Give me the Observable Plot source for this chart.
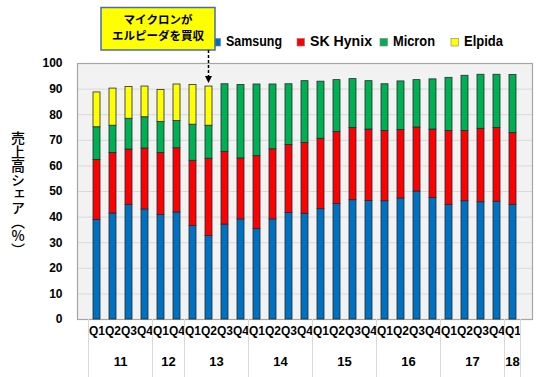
<!DOCTYPE html>
<html>
<head>
<meta charset="utf-8">
<script src="https://cdn.jsdelivr.net/npm/d3@7"></script>
<script src="https://cdn.jsdelivr.net/npm/@observablehq/plot@0.6"></script>
<style>
  body { margin: 0; background: #fff; }
  #chart svg text { font-family: Arial, "Liberation Sans", sans-serif; font-weight: bold; }
</style>
</head>
<body>
<div id="chart"></div>
<script>
// ---- data ----
const years    = ["11","11","11","11","12","12","13","13","13","13","14","14","14","14","15","15","15","15","16","16","16","16","17","17","17","17","18"];
const quarters = ["Q1","Q2","Q3","Q4","Q1","Q4","Q1","Q2","Q3","Q4","Q1","Q2","Q3","Q4","Q1","Q2","Q3","Q4","Q1","Q2","Q3","Q4","Q1","Q2","Q3","Q4","Q1"];
const companies = ["Samsung", "SK Hynix", "Micron", "Elpida"];
const colors    = ["#0070c0", "#ff0000", "#00b050", "#ffff00"];
const samsung = [38.9,41.4,44.8,43.0,40.8,41.8,36.5,32.6,37.1,39.1,35.3,39.1,41.6,41.3,43.1,45.1,46.6,46.3,46.2,47.3,50.0,47.5,44.8,46.2,45.8,46.0,44.8];
const hynix   = [23.4,23.6,21.6,23.8,24.2,25.1,25.5,30.2,28.4,23.8,28.5,27.4,26.6,27.7,27.5,28.1,28.2,27.9,27.4,26.7,25.0,26.7,28.8,27.4,28.7,28.8,28.0];
const micron  = [12.8,10.7,12.0,12.2,12.2,10.6,14.1,12.9,26.4,28.7,28.0,25.3,23.7,24.1,22.3,20.3,19.1,18.9,18.3,19.0,18.5,19.6,20.8,21.6,21.1,20.8,22.7];
const elpida  = [13.6,14.5,12.4,12.0,12.5,14.3,15.5,15.3];
const yTicks = [0,10,20,30,40,50,60,70,80,90,100];
const gridValues = [10,20,30,40,50,60,70,80,90];
const yTitle = "売上高シェア（%）";
const noteLines = ["マイクロンが", "エルピーダを買収"];
const noteQuarter = 7; // 13Q2

const ids = years.map((y, i) => y + quarters[i]);
const series = [samsung, hynix, micron, elpida];
const table = [];
companies.forEach((c, k) => {
  series[k].forEach((v, i) => table.push({id: ids[i], company: c, value: v}));
});

const chart = Plot.plot({
  width: 550,
  height: 377,
  marginTop: 63,
  marginBottom: 58,
  marginLeft: 77,
  marginRight: 18,
  style: {fontSize: "12px", color: "#000", background: "#fff"},
  x: {domain: ids, paddingInner: 0.55, paddingOuter: 0.275, axis: null},
  y: {domain: [0, 100], label: null},
  color: {domain: companies, range: colors},
  marks: [
    Plot.frame({fill: "#f2f2f2", stroke: "none"}),
    Plot.ruleY(gridValues, {stroke: "#d9d9d9", strokeWidth: 1}),
    Plot.frame({stroke: "#a6a6a6", strokeWidth: 1.2}),
    Plot.barY(table, Plot.stackY({order: companies}, {
      x: "id", y: "value", fill: "company", stroke: "#1f2a36", strokeWidth: 0.8
    })),
    Plot.axisY({ticks: yTicks, tickSize: 0, tickPadding: 15, fontSize: 12, fill: "#000", label: null}),
    Plot.text(ids, {x: d => d, text: (d, i) => quarters[i], frameAnchor: "bottom", dy: 15, fontSize: 12, fill: "#000"})
  ]
});
document.getElementById("chart").appendChild(chart);

const svg = d3.select(chart);
const xs = chart.scale("x");
const ys = chart.scale("y");
const step = xs.step, bw = xs.bandwidth;
const left = id => xs.apply(id) - (step - bw) / 2;
const center = id => xs.apply(id) + bw / 2;
const y0 = ys.apply(0);

// year groups: separators + labels
const groups = d3.groups(ids.map((id, i) => ({id, year: years[i]})), d => d.year);
const sepX = groups.map(([, arr]) => left(arr[0].id));
sepX.push(left(ids[ids.length - 1]) + step);
svg.append("g").selectAll("line").data(sepX).join("line")
  .attr("x1", d => d).attr("x2", d => d)
  .attr("y1", y0).attr("y2", 377)
  .attr("stroke", "#d9d9d9").attr("stroke-width", 1);
svg.append("g").selectAll("text").data(groups).join("text")
  .attr("x", ([, arr]) => (left(arr[0].id) + left(arr[arr.length - 1].id) + step) / 2)
  .attr("y", y0 + 44)
  .attr("text-anchor", "middle").attr("dominant-baseline", "middle")
  .attr("font-size", 13).attr("fill", "#000")
  .text(([y]) => y);

// y title (vertical writing)
svg.append("text")
  .attr("x", 18).attr("y", 131)
  .attr("text-anchor", "start")
  .attr("style", "writing-mode: vertical-rl; text-orientation: upright; font-family: 'Noto Sans CJK JP', sans-serif; font-weight: 500; font-size: 14px;")
  .attr("fill", "#000")
  .text(yTitle);

// legend
const legendX = [213, 297, 380, 451];
const legendW = [56, 62, 42, 39];
const lg = svg.append("g");
companies.forEach((c, k) => {
  lg.append("rect").attr("x", legendX[k]).attr("y", 38.5).attr("width", 7.5).attr("height", 7.5)
    .attr("fill", colors[k]).attr("stroke", "#7f7f7f").attr("stroke-width", 0.6);
  lg.append("text").attr("x", legendX[k] + 13).attr("y", 42.5)
    .attr("text-anchor", "start")
    .attr("dominant-baseline", "middle").attr("font-size", 15).attr("fill", "#000")
    .attr("textLength", legendW[k]).attr("lengthAdjust", "spacingAndGlyphs")
    .text(c);
});

// annotation
const ax = center(ids[noteQuarter]);
const note = svg.append("g");
note.append("rect").attr("x", 101).attr("y", 7.5).attr("width", 114).attr("height", 42.5)
  .attr("fill", "#ffff00").attr("stroke", "#4a6f9e").attr("stroke-width", 1.5);
noteLines.forEach((t, i) => {
  note.append("text").attr("x", 158).attr("y", 21 + i * 16)
    .attr("text-anchor", "middle").attr("dominant-baseline", "middle")
    .attr("style", "font-family: 'Noto Sans CJK JP', sans-serif; font-weight: bold; font-size: 11.5px;")
    .attr("fill", "#000").text(t);
});
note.append("line").attr("x1", ax).attr("x2", ax).attr("y1", 50).attr("y2", 77)
  .attr("stroke", "#000").attr("stroke-width", 1.5).attr("stroke-dasharray", "3,2");
note.append("path").attr("d", `M${ax - 3.5},76 L${ax + 3.5},76 L${ax},83 Z`).attr("fill", "#000");
</script>
</body>
</html>
